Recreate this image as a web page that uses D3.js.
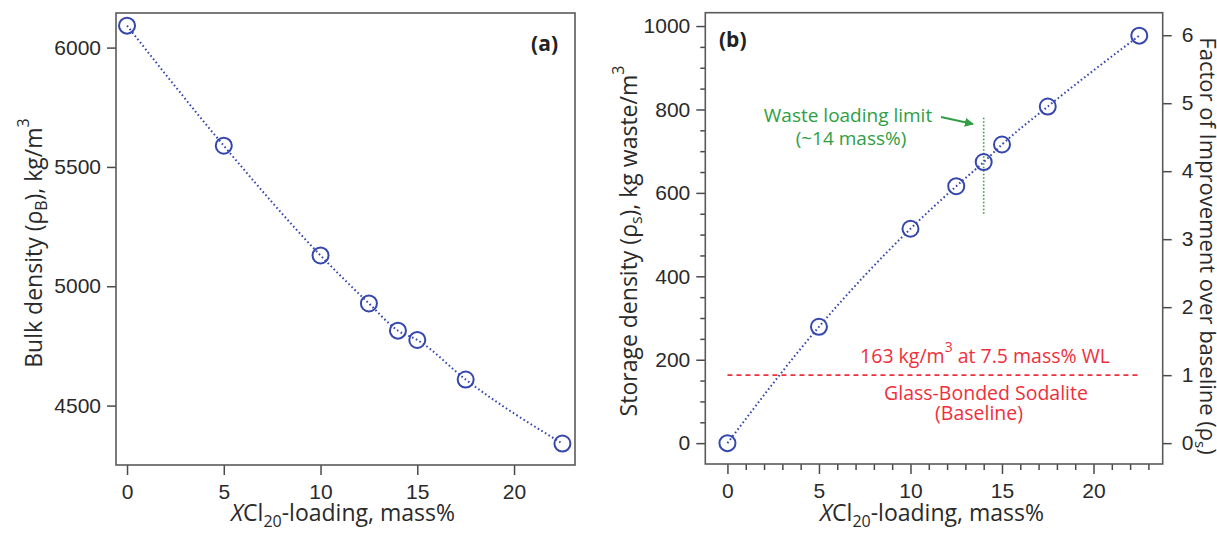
<!DOCTYPE html>
<html>
<head>
<meta charset="utf-8">
<script src="https://cdn.jsdelivr.net/npm/d3@7"></script>
<style>
  body { margin: 0; background: #fff; }
  svg { font-family: "Open Sans", sans-serif; }
  .tick line { stroke: #4a4a4a; stroke-width: 1.5; }
  .tick text { fill: #2a2a2a; font-size: 21px; }
  .frame { fill: none; stroke: #5a5a5a; stroke-width: 1.6; }
  .title { fill: #2a2a2a; font-size: 23px; }
</style>
</head>
<body>
<div id="chart"></div>
<script>
// chart data
var loading = [0, 5, 10, 12.5, 14, 15, 17.5, 22.5];
var bulkDensity = [6092, 5589, 5129, 4928, 4814, 4775, 4609, 4341];
var storageDensity = [0, 279, 514, 616, 674, 716, 807, 977];

var xTicks = [0, 5, 10, 15, 20];
var bulkTicks = [4500, 5000, 5500, 6000];
var storageTicks = [0, 200, 400, 600, 800, 1000];
var factorTicks = [0, 1, 2, 3, 4, 5, 6];

var baselineDensity = 163;      // glass-bonded sodalite
var baselineRange = [0, 22.5];
var wasteLimit = 14;
var wasteLimitRange = [550, 780];

var blue = "#3547ad", green = "#2f9e44", red = "#ef2f3c";
var fmt = d3.format("d");

var svg = d3.select("#chart").append("svg")
    .attr("width", 1217)
    .attr("height", 533);

var line = d3.line().curve(d3.curveMonotoneX);

// ---------- panel (a) ----------
var xA = d3.scaleLinear().domain([-0.57, 23.15]).range([116, 575]);
var yA = d3.scaleLinear().domain([4251, 6145]).range([465, 13]);

svg.append("g")
    .attr("transform", "translate(0,465)")
    .call(d3.axisBottom(xA).tickValues(xTicks).tickFormat(fmt).tickSize(10).tickPadding(9))
    .call(function(g) { g.select(".domain").remove(); });

svg.append("g")
    .attr("transform", "translate(116,0)")
    .call(d3.axisLeft(yA).tickValues(bulkTicks).tickFormat(fmt).tickSize(9).tickPadding(6))
    .call(function(g) { g.select(".domain").remove(); });

svg.append("rect").attr("class", "frame")
    .attr("x", 116).attr("y", 13)
    .attr("width", 575 - 116).attr("height", 465 - 13);

var ptsA = loading.map(function(d, i) { return [xA(d), yA(bulkDensity[i])]; });

svg.append("path")
    .attr("d", line(ptsA))
    .attr("fill", "none")
    .attr("stroke", blue)
    .attr("stroke-width", 2)
    .attr("stroke-dasharray", "1.6,2.6");

svg.selectAll(".ptA").data(ptsA).enter().append("circle")
    .attr("class", "ptA")
    .attr("cx", function(d) { return d[0]; })
    .attr("cy", function(d) { return d[1]; })
    .attr("r", 8)
    .attr("fill", "none")
    .attr("stroke", blue)
    .attr("stroke-width", 2);

svg.append("text")
    .attr("x", 558).attr("y", 51)
    .attr("text-anchor", "end")
    .attr("font-weight", "bold")
    .attr("font-size", 21)
    .attr("fill", "#222")
    .text("(a)");

// ---------- panel (b) ----------
var xB = d3.scaleLinear().domain([-1.21, 23.78]).range([705.3, 1162.7]);
var yB = d3.scaleLinear().domain([-50, 1032]).range([464, 12.7]);
var yF = d3.scaleLinear().domain([-50 / baselineDensity, 1032 / baselineDensity]).range([464, 12.7]);

// minor ticks
svg.append("g")
    .attr("transform", "translate(0,464)")
    .call(d3.axisBottom(xB).tickValues(d3.range(0, 24).filter(function(v) { return v % 5 != 0; }))
        .tickSize(6).tickFormat(""))
    .call(function(g) { g.select(".domain").remove(); });

svg.append("g")
    .attr("transform", "translate(705.3,0)")
    .call(d3.axisLeft(yB).tickValues(d3.range(50, 1000, 50).filter(function(v) { return v % 200 != 0; }))
        .tickSize(5).tickFormat(""))
    .call(function(g) { g.select(".domain").remove(); });

// major ticks
svg.append("g")
    .attr("transform", "translate(0,464)")
    .call(d3.axisBottom(xB).tickValues(xTicks).tickFormat(fmt).tickSize(10).tickPadding(9))
    .call(function(g) { g.select(".domain").remove(); });

svg.append("g")
    .attr("transform", "translate(705.3,0)")
    .call(d3.axisLeft(yB).tickValues(storageTicks).tickFormat(fmt).tickSize(9).tickPadding(6))
    .call(function(g) { g.select(".domain").remove(); });

svg.append("g")
    .attr("transform", "translate(1162.7,0)")
    .call(d3.axisRight(yF).tickValues(factorTicks).tickFormat(fmt).tickSize(9).tickPadding(10))
    .call(function(g) { g.select(".domain").remove(); });

svg.append("rect").attr("class", "frame")
    .attr("x", 705.3).attr("y", 12.7)
    .attr("width", 1162.7 - 705.3).attr("height", 464 - 12.7);

// baseline (dashed red)
svg.append("line")
    .attr("x1", xB(baselineRange[0])).attr("x2", xB(baselineRange[1]))
    .attr("y1", yB(baselineDensity)).attr("y2", yB(baselineDensity))
    .attr("stroke", red)
    .attr("stroke-width", 1.6)
    .attr("stroke-dasharray", "5,4");

// waste loading limit (dotted green)
svg.append("line")
    .attr("x1", xB(wasteLimit)).attr("x2", xB(wasteLimit))
    .attr("y1", yB(wasteLimitRange[0])).attr("y2", yB(wasteLimitRange[1]))
    .attr("stroke", green)
    .attr("stroke-width", 1.6)
    .attr("stroke-dasharray", "1.5,2");

var ptsB = loading.map(function(d, i) { return [xB(d), yB(storageDensity[i])]; });

svg.append("path")
    .attr("d", line(ptsB))
    .attr("fill", "none")
    .attr("stroke", blue)
    .attr("stroke-width", 2)
    .attr("stroke-dasharray", "1.6,2.6");

svg.selectAll(".ptB").data(ptsB).enter().append("circle")
    .attr("class", "ptB")
    .attr("cx", function(d) { return d[0]; })
    .attr("cy", function(d) { return d[1]; })
    .attr("r", 8)
    .attr("fill", "none")
    .attr("stroke", blue)
    .attr("stroke-width", 2);

svg.append("text")
    .attr("x", 719).attr("y", 47)
    .attr("font-weight", "bold")
    .attr("font-size", 21)
    .attr("fill", "#222")
    .text("(b)");

// green annotation
var ga = svg.append("g").attr("fill", green).attr("font-size", 19).attr("text-anchor", "middle");
ga.append("text").attr("x", 848).attr("y", 122).text("Waste loading limit");
ga.append("text").attr("x", 851).attr("y", 145).text("(~14 mass%)");

svg.append("defs").append("marker")
    .attr("id", "arrowG")
    .attr("viewBox", "0 0 10 10")
    .attr("refX", 9).attr("refY", 5)
    .attr("markerWidth", 5).attr("markerHeight", 5)
    .attr("orient", "auto")
    .append("path").attr("d", "M0,0L10,5L0,10z").attr("fill", green);

svg.append("line")
    .attr("x1", 941).attr("y1", 117)
    .attr("x2", 973).attr("y2", 124)
    .attr("stroke", green)
    .attr("stroke-width", 1.8)
    .attr("marker-end", "url(#arrowG)");

// red annotation
var ra = svg.append("g").attr("fill", red).attr("font-size", 19.5).attr("text-anchor", "middle");
var r1 = ra.append("text").attr("x", 985).attr("y", 363);
r1.append("tspan").text("163 kg/m");
r1.append("tspan").attr("dy", -11).attr("font-size", 14).text("3");
r1.append("tspan").attr("dy", 11).text(" at 7.5 mass% WL");
ra.append("text").attr("x", 986).attr("y", 400).text("Glass-Bonded Sodalite");
ra.append("text").attr("x", 979).attr("y", 420).text("(Baseline)");

// ---------- axis titles ----------
function xTitle(cx) {
    var t = svg.append("text").attr("class", "title")
        .attr("x", cx).attr("y", 521)
        .attr("text-anchor", "middle");
    t.append("tspan").attr("font-style", "italic").text("X");
    t.append("tspan").text("Cl");
    t.append("tspan").attr("dy", 6).attr("font-size", 16).text("20");
    t.append("tspan").attr("dy", -6).text("-loading, mass%");
}
xTitle(343);
xTitle(932);

var tA = svg.append("text").attr("class", "title")
    .attr("transform", "translate(42,243) rotate(-90)")
    .attr("text-anchor", "middle");
tA.append("tspan").text("Bulk density (\u03c1");
tA.append("tspan").attr("dy", 5).attr("font-size", 16).text("B");
tA.append("tspan").attr("dy", -5).text("), kg/m");
tA.append("tspan").attr("dy", -13).attr("font-size", 16).text("3");

var tB = svg.append("text").attr("class", "title")
    .attr("transform", "translate(637,241) rotate(-90)")
    .attr("text-anchor", "middle");
tB.append("tspan").text("Storage density (\u03c1");
tB.append("tspan").attr("dy", 5).attr("font-size", 16).text("s");
tB.append("tspan").attr("dy", -5).text("), kg waste/m");
tB.append("tspan").attr("dy", -13).attr("font-size", 16).text("3");

var tF = svg.append("text").attr("class", "title")
    .attr("font-size", 22)
    .style("font-size", "22px")
    .attr("transform", "translate(1200,246) rotate(90)")
    .attr("text-anchor", "middle");
tF.append("tspan").text("Factor of Improvement over baseline (\u03c1");
tF.append("tspan").attr("dy", 5).attr("font-size", 15).text("s");
tF.append("tspan").attr("dy", -5).text(")");
</script>
</body>
</html>
